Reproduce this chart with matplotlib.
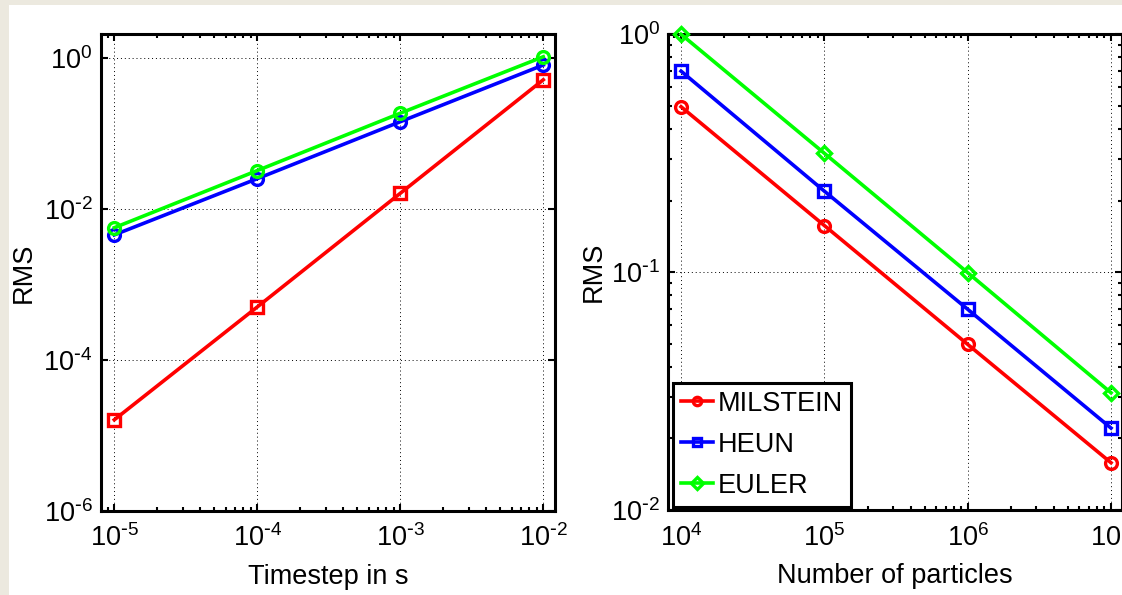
# -*- coding: utf-8 -*-

"""
RMS error vs timestep and vs number of particles (MILSTEIN / HEUN / EULER)
"""

import math

import matplotlib
matplotlib.use('Agg')
import matplotlib.pyplot as plt
from matplotlib.patches import Rectangle
from matplotlib.ticker import LogLocator, FuncFormatter, NullLocator

matplotlib.rcParams['font.family'] = ['Liberation Sans', 'DejaVu Sans']
matplotlib.rcParams['axes.unicode_minus'] = False
matplotlib.rcParams['font.size'] = 19.5

# left panel: RMS against timestep
timesteps = [1e-5, 1e-4, 1e-3, 1e-2]
rms_dt_milstein = [1.6e-5, 5.0e-4, 0.016, 0.51]
rms_dt_heun = [4.5e-3, 0.025, 0.142, 0.80]
rms_dt_euler = [5.6e-3, 0.032, 0.184, 1.03]

# right panel: RMS against number of particles
n_particles = [1e4, 1e5, 1e6, 1e7]
rms_n_milstein = [0.496, 0.157, 0.0497, 0.0158]
rms_n_heun = [0.70, 0.219, 0.0698, 0.0221]
rms_n_euler = [1.0, 0.316, 0.0995, 0.0311]

labels = ['MILSTEIN', 'HEUN', 'EULER']
colors = ['#FF0000', '#0000FF', '#00FF00']

W, H = 1122, 595


def pow10_label(v, pos):
    # MATLAB style: short hyphen in the exponent
    e = int(round(math.log10(v)))
    if e < 0:
        return r'$\mathdefault{10^{\text{-}%d}}$' % (-e)
    return r'$\mathdefault{10^{%d}}$' % e


def style_axes(ax):
    """
    MATLAB-ish look: box, inward ticks on all sides, dotted grid
    """
    for sp in ax.spines.values():
        sp.set_linewidth(2.2)
    ax.tick_params(which='both', direction='in', top=True, right=True,
                   width=1.5, colors='k')
    ax.tick_params(which='major', length=5)
    ax.tick_params(which='minor', length=3)
    ax.tick_params(axis='x', which='major', pad=10)
    ax.tick_params(axis='y', which='major', pad=6)
    ax.xaxis.set_major_formatter(FuncFormatter(pow10_label))
    ax.yaxis.set_major_formatter(FuncFormatter(pow10_label))
    ax.grid(True, which='major', color='k', linestyle=(0, (1, 3)), linewidth=0.7)


def draw_timestep_plot(ax):
    markers = ['s', 'o', 'o']
    series = [rms_dt_milstein, rms_dt_heun, rms_dt_euler]
    for ys, m, c in zip(series, markers, colors):
        ax.loglog(timesteps, ys, color=c, lw=2.6, marker=m, ms=8.5,
                  mfc='none', mew=2.4, clip_on=False, zorder=3)
    ax.set_xlim(10 ** -5.093, 10 ** -1.918)
    ax.set_ylim(1e-6, 10 ** 0.314)
    ax.set_xticks(timesteps)
    ax.xaxis.set_minor_locator(LogLocator(subs=range(2, 10)))
    ax.set_yticks([1e-6, 1e-4, 1e-2, 1])
    ax.yaxis.set_minor_locator(NullLocator())
    style_axes(ax)
    ax.set_xlabel('Timestep in s')
    ax.set_ylabel('RMS')
    ax.xaxis.set_label_coords(0.5, -0.112)
    ax.yaxis.set_label_coords(-0.141, 0.5)


def draw_particles_plot(ax):
    markers = ['o', 's', 'D']
    series = [rms_n_milstein, rms_n_heun, rms_n_euler]
    for ys, m, c, lab in zip(series, markers, colors, labels):
        ax.loglog(n_particles, ys, color=c, lw=2.6, marker=m,
                  ms=7.5 if m == 'D' else 8.5, mfc='none', mew=2.4,
                  clip_on=False, zorder=3, label=lab)
    ax.set_xlim(10 ** 3.911, 10 ** 7.073)
    ax.set_ylim(1e-2, 1)
    ax.set_xticks(n_particles)
    ax.xaxis.set_minor_locator(LogLocator(subs=range(2, 10)))
    ax.set_yticks([1e-2, 1e-1, 1])
    ax.yaxis.set_minor_locator(LogLocator(subs=range(2, 10)))
    style_axes(ax)
    ax.set_xlabel('Number of particles')
    ax.set_ylabel('RMS')
    ax.xaxis.set_label_coords(0.5, -0.112)
    ax.yaxis.set_label_coords(-0.135, 0.5)
    leg = ax.legend(loc='lower left', bbox_to_anchor=(0.0097, 0.007),
                    borderaxespad=0, fancybox=False, framealpha=1,
                    edgecolor='k', numpoints=1, handlelength=1.2,
                    handletextpad=0.15, labelspacing=0.55, borderpad=0.3,
                    fontsize=19.5)
    leg.get_frame().set_linewidth(2.2)
    for h in leg.legend_handles:
        h.set_markersize(6)


def main():
    fig = plt.figure(figsize=(W / 100, H / 100), dpi=100)
    fig.patch.set_facecolor('#ECE9DF')
    fig.patches.append(Rectangle((9 / W, 0), 1, 1 - 5 / H, transform=fig.transFigure,
                                 facecolor='white', edgecolor='none', zorder=-10))

    ax1 = fig.add_axes([101 / W, 1 - 510.7 / H, 454 / W, 476.7 / H])
    ax2 = fig.add_axes([668.3 / W, 1 - 510 / H, 453.2 / W, 475.7 / H])

    draw_timestep_plot(ax1)
    draw_particles_plot(ax2)

    fig.savefig('out.png', dpi=100, facecolor=fig.get_facecolor())


if __name__ == '__main__':
    main()
